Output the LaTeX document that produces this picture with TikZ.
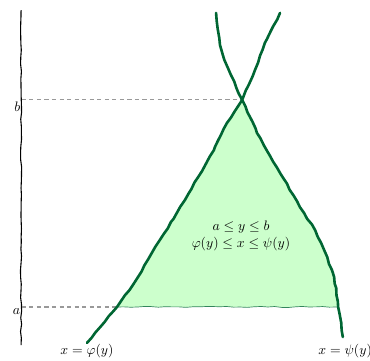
\documentclass[tikz,border=0pt]{standalone}
\usepackage{amsmath, amssymb}
\usetikzlibrary{decorations.pathmorphing}
\definecolor{curvegreen}{HTML}{006633}
\definecolor{regiongreen}{HTML}{CCFFCC}

\begin{document}
\begin{tikzpicture}[
	sketch/.style={decorate, decoration={random steps, segment length=5pt, amplitude=0.4pt}},
	curve/.style={sketch, draw=curvegreen, line width=1.9pt, line join=round, line cap=round},
	guide/.style={draw=gray!80, dash pattern={on 3pt off 2.5pt}, line width=0.8pt},
	lbl/.style={inner sep=1pt}]
	\pgfmathsetseed{7}
	\useasboundingbox (0, 0) rectangle (9.487, 9.231);
	% Points:
	\coordinate (axbot) at (0.54, 0.38);
	\coordinate (axtop) at (0.54, 8.97);
	\coordinate (axb) at (0.56, 6.67);
	\coordinate (axa) at (0.56, 1.36);
	\coordinate (cross) at (6.21, 6.67);
	\coordinate (phia) at (3.00, 1.36);
	\coordinate (psia) at (8.67, 1.36);
	\coordinate (phibot) at (2.23, 0.44);
	\coordinate (psibot) at (8.79, 0.59);
	% Region:
	\fill[regiongreen] (phia) -- (3.54, 2.13) -- (4.10, 3.08) -- (4.45, 3.62) -- (4.74, 4.10) -- (5.08, 4.69) -- (5.30, 5.07) -- (5.51, 5.46) -- (5.82, 6.08) -- (6.02, 6.38) -- (cross)
		-- (6.40, 6.25) -- (6.59, 5.82) -- (6.92, 5.24) -- (7.26, 4.67) -- (7.69, 3.92) -- (8.08, 3.33) -- (8.32, 2.80) -- (8.51, 2.31) -- (8.62, 1.85) -- (psia) -- cycle;
	\draw[sketch, draw=curvegreen!80, line width=0.5pt] (phia) -- (psia);
	% Axis and levels:
	\draw[sketch, line width=0.8pt] (axbot) -- (axtop);
	\draw[guide] (axb) -- (cross);
	\draw[guide] (axa) -- (phia);
	\node[lbl, below left] (labb) at (axb) {$b$};
	\node[lbl, below left] (laba) at (axa) {$a$};
	% Curves:
	\draw[curve] (phibot) -- (phia) -- (3.54, 2.13) -- (4.10, 3.08) -- (4.45, 3.62) -- (4.74, 4.10) -- (5.08, 4.69) -- (5.30, 5.07) -- (5.51, 5.46) -- (5.82, 6.08) -- (6.02, 6.38) -- (cross)
		-- (6.06, 6.98) -- (5.92, 7.31) -- (5.75, 7.70) -- (5.64, 8.08) -- (5.58, 8.50) -- (5.54, 8.90);
	\draw[curve] (7.18, 8.90) -- (7.00, 8.55) -- (6.79, 8.13) -- (6.54, 7.44) -- (6.38, 7.06) -- (cross)
		-- (6.40, 6.25) -- (6.59, 5.82) -- (6.92, 5.24) -- (7.26, 4.67) -- (7.69, 3.92) -- (8.08, 3.33) -- (8.32, 2.80) -- (8.51, 2.31) -- (8.62, 1.85) -- (psia) -- (8.75, 0.95) -- (psibot);
	\node[anchor=south, inner sep=1pt] (phiname) at (2.23, 0.0) {$x = \varphi(y)$};
	\node[anchor=south, inner sep=1pt] (psiname) at (8.85, 0.0) {$x = \psi(y)$};
	\node[align=center] (cond) at (6.18, 3.18) {$a \le y \le b$\\$\varphi(y) \le x \le \psi(y)$};
\end{tikzpicture}
\end{document}
